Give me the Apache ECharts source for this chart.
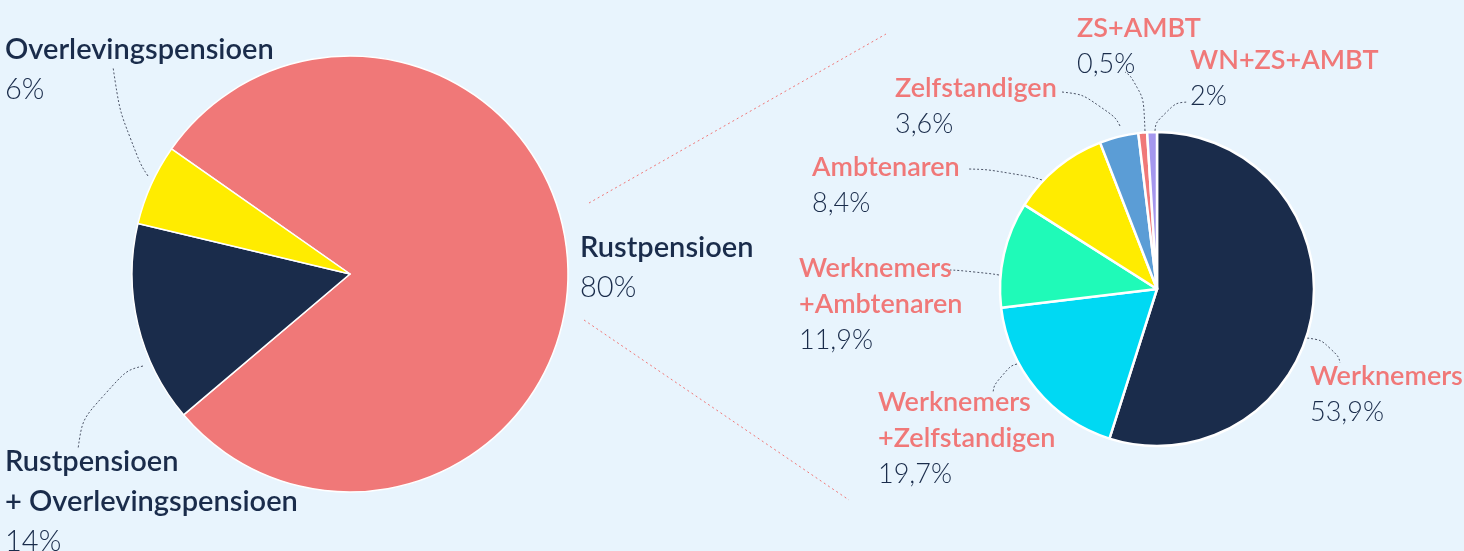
<!DOCTYPE html>
<html>
<head>
<meta charset="utf-8">
<title>Pensioenen</title>
<script src="https://cdn.jsdelivr.net/npm/echarts@6/dist/echarts.min.js"></script>
<style>
  html, body { margin: 0; padding: 0; background: #e8f4fd; }
  #chart { width: 1464px; height: 551px; }
</style>
</head>
<body>
<div id="chart"></div>
<script>
// left pie: type of pension
const leftNames = ['Rustpensioen', 'Rustpensioen\n+ Overlevingspensioen', 'Overlevingspensioen']
const leftShares = [79.1, 14.9, 6.0] // slice sizes as drawn in the picture
const leftPct = ['80%', '14%', '6%']

// right pie: breakdown of Rustpensioen by career
const rightNames = ['Werknemers', 'Werknemers\n+Zelfstandigen', 'Werknemers\n+Ambtenaren', 'Ambtenaren', 'Zelfstandigen', 'ZS+AMBT', 'WN+ZS+AMBT']
const rightShares = [54.9, 18.2, 10.9, 10.1, 4.0, 0.9, 1.0] // drawn sizes (not quite the printed %)
const rightPct = ['53,9%', '19,7%', '11,9%', '8,4%', '3,6%', '0,5%', '2%']

const NAVY = '#1a2c4b'
const CORAL = '#f07878'
const leftColors = [CORAL, NAVY, '#ffec00']
const rightColors = [NAVY, '#00d9f3', '#1ffab8', '#ffec00', '#5b9dd6', CORAL, '#a497ee']

// label boxes (top-left) and leader lines, in px
const leftLayout = [
  { x: 580, y: 228, line: null },
  { x: 5, y: 442, line: [[143, 366], [88, 380], [78, 449]] },
  { x: 5, y: 30, line: [[148, 176], [124, 140], [113, 67]] }
]
const rightLayout = [
  { x: 1310, y: 358, line: [[1307, 338], [1336, 342], [1340, 363]] },
  { x: 878, y: 384, line: [[1017, 364], [996, 370], [993, 393]] },
  { x: 799, y: 250, line: [[999, 275], [975, 271], [950, 270]] },
  { x: 812, y: 149, line: [[1042, 180], [1010, 170], [968, 169]] },
  { x: 895, y: 70, line: [[1120, 126], [1105, 97], [1062, 92]] },
  { x: 1077, y: 10, line: [[1145, 131], [1143, 84], [1125, 72]] },
  { x: 1190, y: 42, line: [[1155, 131], [1157, 104], [1188, 102]] }
]

const FONT = 'Lato'

const buildData = (names, shares, pct, colors, layout) =>
  names.map((n, i) => ({
    name: n,
    value: shares[i],
    pct: pct[i],
    itemStyle: { color: colors[i] },
    labelLine: { show: !!layout[i].line }
  }))

const makeFormatter = (nameKey, valKey) => (p) =>
  p.name.split('\n').map(s => '{' + nameKey + '|' + s + '}').join('\n') +
  '\n{' + valKey + '|' + p.data.pct + '}'

const makeLayout = (layout) => (params) => {
  const l = layout[params.dataIndex]
  const res = { x: l.x, y: l.y, align: 'left', verticalAlign: 'top' }
  if (l.line) res.labelLinePoints = l.line
  return res
}

const guideStyle = { color: '#4d5568', width: 1, type: [2, 2] }

const chart = echarts.init(document.getElementById('chart'))

const option = {
  backgroundColor: '#e8f4fd',
  animation: false,
  graphic: [
    {
      type: 'line',
      shape: { x1: 589, y1: 203, x2: 886, y2: 34 },
      style: { stroke: CORAL, lineWidth: 1, lineDash: [2, 3] }
    },
    {
      type: 'line',
      shape: { x1: 584, y1: 320, x2: 849, y2: 500 },
      style: { stroke: CORAL, lineWidth: 1, lineDash: [2, 3] }
    }
  ],
  series: [
    {
      type: 'pie',
      center: [350, 274],
      radius: 218,
      startAngle: 145,
      clockwise: true,
      avoidLabelOverlap: false,
      itemStyle: { borderColor: '#ffffff', borderWidth: 1.5 },
      label: {
        show: true,
        position: 'outside',
        formatter: makeFormatter('ln', 'lv'),
        rich: {
          ln: { fontFamily: FONT, fontSize: 29, fontWeight: 600, color: NAVY, lineHeight: 40 },
          lv: { fontFamily: FONT, fontSize: 29, fontWeight: 300, color: NAVY, lineHeight: 40 }
        }
      },
      labelLine: { show: true, smooth: 0.7, lineStyle: guideStyle },
      labelLayout: makeLayout(leftLayout),
      emphasis: { disabled: true },
      data: buildData(leftNames, leftShares, leftPct, leftColors, leftLayout)
    },
    {
      type: 'pie',
      center: [1157, 289],
      radius: 157,
      startAngle: 90,
      clockwise: true,
      avoidLabelOverlap: false,
      itemStyle: { borderColor: '#ffffff', borderWidth: 2.5 },
      label: {
        show: true,
        position: 'outside',
        formatter: makeFormatter('rn', 'rv'),
        rich: {
          rn: { fontFamily: FONT, fontSize: 27, fontWeight: 600, color: CORAL, lineHeight: 36 },
          rv: { fontFamily: FONT, fontSize: 27, fontWeight: 300, color: NAVY, lineHeight: 36 }
        }
      },
      labelLine: { show: true, smooth: 0.7, lineStyle: guideStyle },
      labelLayout: makeLayout(rightLayout),
      emphasis: { disabled: true },
      data: buildData(rightNames, rightShares, rightPct, rightColors, rightLayout)
    }
  ]
}

chart.setOption(option)
window.addEventListener('resize', () => chart.resize())
</script>
</body>
</html>
